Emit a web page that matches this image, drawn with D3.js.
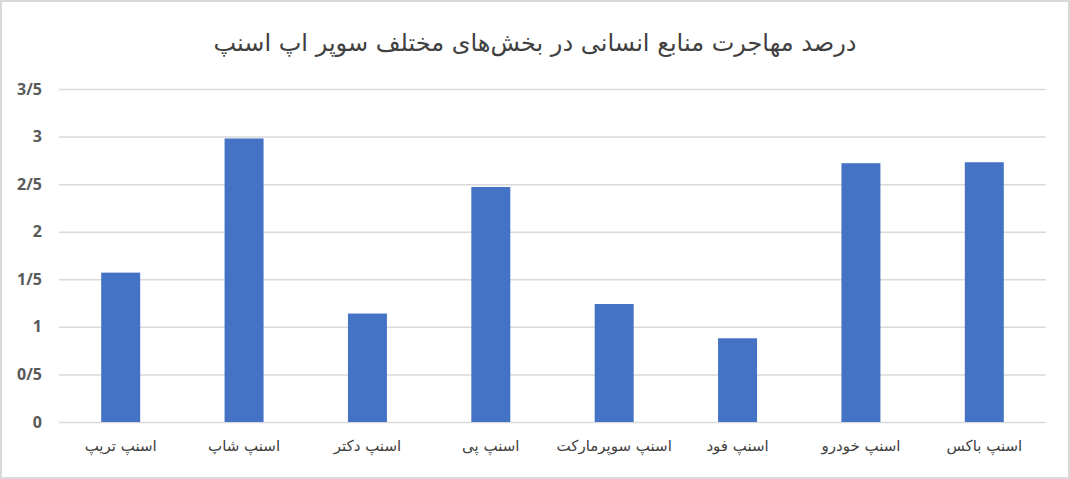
<!DOCTYPE html>
<html><head><meta charset="utf-8">
<script src="https://cdn.jsdelivr.net/npm/d3@7"></script>
<style>
html,body{margin:0;padding:0;background:#fff;}
svg{display:block;}
</style></head>
<body>
<svg id="c" width="1070" height="479"></svg>
<script>
const title = "درصد مهاجرت منابع انسانی در بخش‌های مختلف سوپر اپ اسنپ";
const categories = ["اسنپ تریپ","اسنپ شاپ","اسنپ دکتر","اسنپ پی","اسنپ سوپرمارکت","اسنپ فود","اسنپ خودرو","اسنپ باکس"];
const values = [1.57, 2.98, 1.14, 2.47, 1.24, 0.88, 2.72, 2.73];
const yTicks = [0, 0.5, 1, 1.5, 2, 2.5, 3, 3.5];

const svg = d3.select("#c");
const W = 1070, H = 479;
const m = {left: 59, right: 24, top: 89, bottom: 57};

svg.append("rect").attr("x",1).attr("y",1).attr("width",W-2).attr("height",H-2)
  .attr("fill","#fff").attr("stroke","#d9d9d9").attr("stroke-width",2);

const x = d3.scaleBand().domain(categories).range([m.left, W - m.right]).paddingInner(0.684).paddingOuter(0.342);
const y = d3.scaleLinear().domain([0, 3.5]).range([H - m.bottom, m.top]);

const yAxis = d3.axisLeft(y).tickValues(yTicks).tickSize(-(W - m.left - m.right)).tickPadding(17)
  .tickFormat(d => String(d).replace(".", "/"));
const gy = svg.append("g").attr("transform", `translate(${m.left},0)`).call(yAxis);
gy.select(".domain").remove();
gy.selectAll(".tick line").attr("stroke","#d9d9d9").attr("stroke-width",1.5);
gy.selectAll(".tick text").attr("fill","#595959").style("font-family","'Open Sans', sans-serif")
  .style("font-size","16px").style("font-weight","700");

svg.append("g").selectAll("rect").data(values).join("rect")
  .attr("x",(d,i)=>x(categories[i])).attr("width",x.bandwidth())
  .attr("y",d=>y(d)).attr("height",d=>y(0)-y(d)).attr("fill","#4472c4");

const xAxis = d3.axisBottom(x).tickSize(0).tickPadding(18);
const gx = svg.append("g").attr("transform", `translate(0,${y(0)})`).call(xAxis);
gx.select(".domain").remove();
gx.selectAll(".tick text").attr("fill","#404040").style("font-family","'DejaVu Sans', sans-serif")
  .style("font-size","15px").attr("direction","rtl");

svg.append("text").attr("x", W/2).attr("y", 51).attr("text-anchor","middle").attr("direction","rtl")
  .attr("fill","#404040").style("font-family","'DejaVu Sans', sans-serif").style("font-size","24px")
  .text(title);
</script>
</body></html>
